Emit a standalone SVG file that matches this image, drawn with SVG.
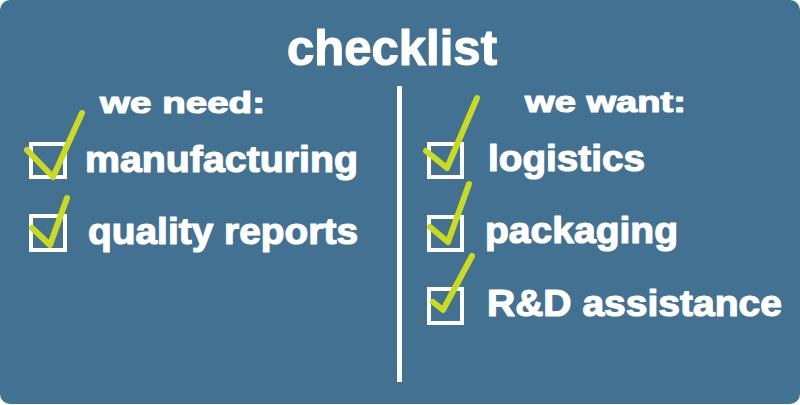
<svg xmlns="http://www.w3.org/2000/svg" width="800" height="405" viewBox="0 0 800 405">
<style>
.t{font-family:"Liberation Sans",Arial,sans-serif;font-weight:bold;fill:#ffffff;stroke:#ffffff;stroke-width:1.2;stroke-linejoin:round}
.box{fill:none;stroke:#ffffff;stroke-width:4}
.chk{fill:none;stroke:#c9da1f;stroke-width:6;stroke-linecap:round;stroke-linejoin:round}
</style>
<rect x="0" y="0" width="800" height="404" rx="10" fill="#437192"/>
<g id="title"><text class="t" x="392" y="65" font-size="50" text-anchor="middle" textLength="210" lengthAdjust="spacingAndGlyphs">checklist</text></g>
<g id="divider"><rect x="397" y="86" width="5" height="296" fill="#ffffff"/></g>
<g id="need-header"><text class="t" x="100" y="113" font-size="30" textLength="165" lengthAdjust="spacingAndGlyphs">we need:</text></g>
<g id="want-header"><text class="t" x="525" y="112" font-size="30" textLength="161" lengthAdjust="spacingAndGlyphs">we want:</text></g>
<g id="item-manufacturing">
<rect class="box" x="31" y="144" width="34" height="33"/>
<polyline class="chk" points="27,150 53,177 82,113"/>
<text class="t" x="85" y="172" font-size="37" textLength="273" lengthAdjust="spacingAndGlyphs">manufacturing</text>
</g>
<g id="item-quality">
<rect class="box" x="31" y="216" width="34" height="34"/>
<polyline class="chk" points="32,228 50,245 67,198"/>
<text class="t" x="88" y="244" font-size="37" textLength="270" lengthAdjust="spacingAndGlyphs">quality reports</text>
</g>
<g id="item-logistics">
<rect class="box" x="429" y="144" width="33" height="33"/>
<polyline class="chk" points="426,151 447,168 477,98"/>
<text class="t" x="488" y="171" font-size="37" textLength="157" lengthAdjust="spacingAndGlyphs">logistics</text>
</g>
<g id="item-packaging">
<rect class="box" x="429" y="217" width="33" height="33"/>
<polyline class="chk" points="430,227 448,242 469,184"/>
<text class="t" x="485" y="243" font-size="37" textLength="193" lengthAdjust="spacingAndGlyphs">packaging</text>
</g>
<g id="item-rd">
<rect class="box" x="429" y="289" width="33" height="34"/>
<polyline class="chk" points="433,302 443,310 472,256"/>
<text class="t" x="487" y="316" font-size="37" textLength="295" lengthAdjust="spacingAndGlyphs">R&amp;D assistance</text>
</g>
</svg>
